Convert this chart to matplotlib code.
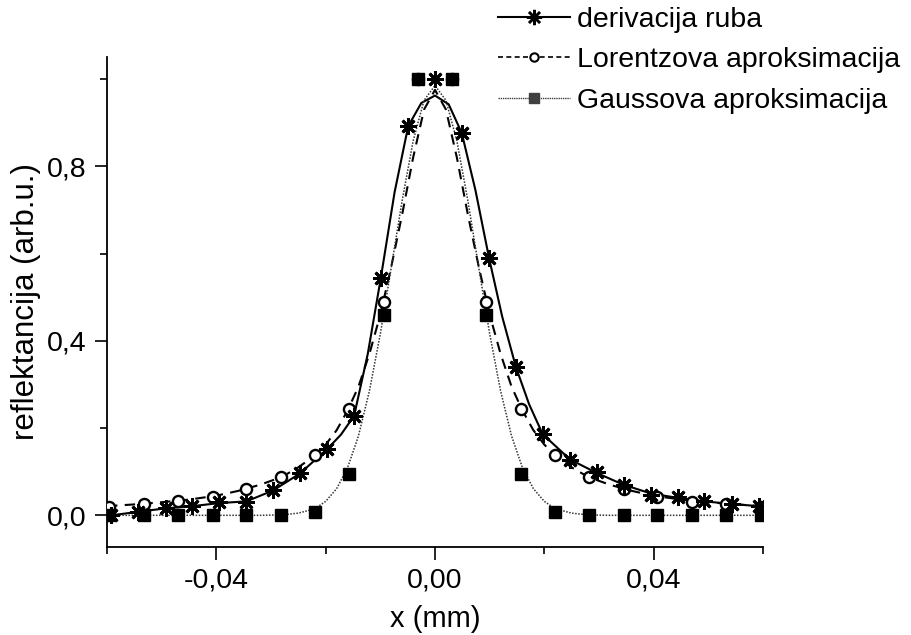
import matplotlib
matplotlib.use("Agg")
import matplotlib.pyplot as plt
from matplotlib.ticker import FixedLocator, FuncFormatter

plt.rcParams['font.family'] = ['Liberation Sans', 'DejaVu Sans']

deriv_x = [-0.0592, -0.0543, -0.0493, -0.0444, -0.0395, -0.0345, -0.0296, -0.0247,
           -0.0197, -0.0148, -0.0099, -0.0049, 0.0, 0.0049, 0.0099, 0.0148, 0.0197,
           0.0247, 0.0296, 0.0345, 0.0395, 0.0444, 0.0493, 0.0543, 0.0592]
deriv_y = [0.0, 0.008, 0.016, 0.021, 0.03, 0.03, 0.057, 0.096,
           0.152, 0.228, 0.545, 0.892, 1.0, 0.876, 0.589, 0.34, 0.186,
           0.126, 0.099, 0.069, 0.046, 0.041, 0.032, 0.027, 0.021]

# smooth line drawn through the derivative points
deriv_line_x = [-0.0592, -0.0543, -0.0493, -0.0444, -0.0395, -0.0345, -0.0296, -0.0247,
                -0.0197, -0.0172, -0.0148, -0.0123, -0.0099, -0.0074, -0.0049, -0.0025,
                0.0, 0.0025, 0.0049, 0.0074, 0.0099, 0.0123, 0.0148, 0.0172, 0.0197,
                0.0247, 0.0296, 0.0345, 0.0395, 0.0444, 0.0493, 0.0543, 0.0592]
deriv_line_y = [0.0, 0.008, 0.016, 0.021, 0.028, 0.032, 0.057, 0.096,
                0.152, 0.185, 0.228, 0.37, 0.545, 0.74, 0.892, 0.945,
                0.962, 0.942, 0.876, 0.745, 0.589, 0.455, 0.34, 0.255, 0.186,
                0.128, 0.097, 0.07, 0.05, 0.04, 0.032, 0.026, 0.021]

# sample points of the two approximations
fit_x = [-0.0596, -0.0533, -0.047, -0.0407, -0.0345, -0.0282, -0.0219, -0.0157, -0.0094, -0.00313,
         0.00313, 0.0094, 0.0157, 0.0219, 0.0282, 0.0345, 0.0407, 0.047, 0.0533, 0.0596]
lorentz_y = [0.02, 0.025, 0.032, 0.041, 0.06, 0.087, 0.138, 0.244, 0.49, 1.0,
             1.0, 0.49, 0.244, 0.138, 0.087, 0.06, 0.041, 0.03, 0.025, 0.02]
gauss_y = [0.0, 0.0, 0.0, 0.0, 0.0, 0.0, 0.008, 0.094, 0.46, 1.0,
           1.0, 0.46, 0.094, 0.008, 0.0, 0.0, 0.0, 0.0, 0.0, 0.0]

# fitted curves
curve_x = [-0.06, -0.055, -0.05, -0.045, -0.04, -0.036, -0.032, -0.028, -0.025, -0.022,
           -0.02, -0.018, -0.016, -0.014, -0.012, -0.01, -0.008, -0.006, -0.004, -0.002,
           0.0, 0.002, 0.004, 0.006, 0.008, 0.01, 0.012, 0.014, 0.016, 0.018,
           0.02, 0.022, 0.025, 0.028, 0.032, 0.036, 0.04, 0.045, 0.05, 0.055, 0.06]
lorentz_curve = [0.021, 0.025, 0.03, 0.036, 0.045, 0.056, 0.07, 0.088, 0.11, 0.137,
                 0.162, 0.195, 0.24, 0.295, 0.37, 0.46, 0.57, 0.69, 0.82, 0.93,
                 0.975, 0.93, 0.82, 0.69, 0.57, 0.46, 0.37, 0.295, 0.24, 0.195,
                 0.162, 0.137, 0.11, 0.088, 0.07, 0.056, 0.045, 0.036, 0.03, 0.025, 0.021]
gauss_curve = [0.0, 0.0, 0.0, 0.0, 0.0, 0.0, 0.0, 0.001, 0.005, 0.015,
               0.032, 0.061, 0.109, 0.182, 0.285, 0.416, 0.568, 0.722, 0.858, 0.951,
               0.985, 0.951, 0.858, 0.722, 0.568, 0.416, 0.285, 0.182, 0.109, 0.061,
               0.032, 0.015, 0.005, 0.001, 0.0, 0.0, 0.0, 0.0, 0.0, 0.0, 0.0]

fig = plt.figure(figsize=(9.11, 6.35), dpi=100)
ax = fig.add_axes([0.1175, 0.139, 0.72, 0.771])

asterisk = (8, 2, 0)

# lines
ax.plot(deriv_line_x, deriv_line_y, color='black', lw=1.5, zorder=2)
ax.plot(curve_x, lorentz_curve, color='black', lw=1.5, ls=(0, (5, 3.5)), zorder=2)
ax.plot(curve_x, gauss_curve, color='0.2', lw=1.1, ls=(0, (1, 1)), zorder=2)

# markers
ax.plot(deriv_x, deriv_y, ls='none', marker=asterisk, ms=12, mew=2.0,
        color='black', zorder=4)
ax.plot(fit_x, lorentz_y, ls='none', marker='o', ms=8, mew=1.7,
        mfc='white', mec='black', zorder=3)
ax.plot(fit_x, gauss_y, ls='none', marker='s', ms=8, color='black', zorder=3)

# legend handles
h1, = ax.plot([], [], color='black', lw=1.5, marker=asterisk, ms=11, mew=1.8)
h2, = ax.plot([], [], color='black', lw=1.2, ls=(0, (3, 2)), marker='o', ms=6,
              mew=1.5, mfc='white', mec='black')
h3, = ax.plot([], [], color='0.25', lw=1.0, ls=(0, (1, 0.6)), marker='s', ms=7)
fig.legend([h1, h2, h3],
           ['derivacija ruba', 'Lorentzova aproksimacija', 'Gaussova aproksimacija'],
           loc='upper left', bbox_to_anchor=(0.543, 0.994), frameon=False,
           fontsize=20.5, handlelength=2.55, handletextpad=0.25, labelspacing=0.52,
           borderaxespad=0.0, borderpad=0.1)

ax.set_xlim(-0.06, 0.06)
ax.set_ylim(-0.072, 1.05)

ax.xaxis.set_major_locator(FixedLocator([-0.04, 0.0, 0.04]))
ax.xaxis.set_minor_locator(FixedLocator([-0.06, -0.02, 0.02, 0.06]))
ax.yaxis.set_major_locator(FixedLocator([0.0, 0.4, 0.8]))
ax.yaxis.set_minor_locator(FixedLocator([0.2, 0.6, 1.0]))

comma = FuncFormatter(lambda v, pos: ('%.2f' % v).replace('.', ',') if abs(v) > 1e-9 else '0,00')
ax.xaxis.set_major_formatter(comma)
ax.yaxis.set_major_formatter(FuncFormatter(lambda v, pos: ('%.1f' % v).replace('.', ',')))

ax.tick_params(which='major', direction='out', length=9, width=1.2, labelsize=20.5, pad=6)
ax.tick_params(which='minor', direction='out', length=5, width=1.2)

for side in ['top', 'right']:
    ax.spines[side].set_visible(False)
for side in ['left', 'bottom']:
    ax.spines[side].set_linewidth(1.3)

ax.set_xlabel('x (mm)', fontsize=21, labelpad=8)
ax.set_ylabel('reflektancija (arb.u.)', fontsize=22.5, labelpad=4)

fig.savefig('out.png', dpi=100)
